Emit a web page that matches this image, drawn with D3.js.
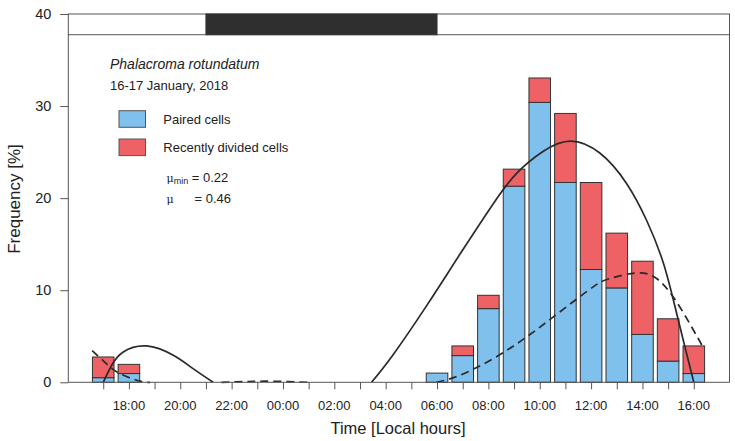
<!DOCTYPE html>
<html>
<head>
<meta charset="utf-8">
<script src="https://cdn.jsdelivr.net/npm/d3@7"></script>
<style>
  html, body { margin: 0; padding: 0; background: #fff; }
  svg { display: block; font-family: "Liberation Sans", Arial, Helvetica, sans-serif; }
</style>
</head>
<body>
<svg id="chart" width="735" height="441"></svg>
<script>
// ---------- data (hours counted from 00:00 on 16 January) ----------
const hours = [17,18,19,20,21,22,23,24,25,26,27,28,29,30,31,32,33,34,35,36,37,38,39,40];
const paired  = [0.5,0.95,0,0,0,0,0,0,0,0,0,0,0,1.0,2.9,8.0,21.3,30.4,21.7,12.25,10.25,5.2,2.3,0.95];
const divided = [2.25,1.0,0,0,0,0,0,0,0,0,0,0,0,0,1.05,1.45,1.85,2.65,7.5,9.45,5.95,7.95,4.6,3.0];
const labelHours = [18,20,22,24,26,28,30,32,34,36,38,40];
const yTicks = [0,10,20,30,40];
const night = [21, 30];          // dark period in top strip
const stripBottom = 37.75;       // strip lower edge in y units

// fitted curves: [hour, value]
const solidLeft  = [[17.0,0],[17.33,1.85],[17.78,3.3],[18.69,3.95],[19.73,2.93],[20.5,1.48],[21.28,0]];
const solidRight = [[27.45,0],[28.29,3.0],[29.59,8.3],[30.89,13.9],[32.19,19.4],[33.1,22.7],[34.14,25.1],[35.2,26.2],[36.34,24.9],[37.38,21.6],[38.16,17.6],[38.82,12.9],[39.33,7.5],[39.72,3.1],[40.0,0]];
const dashLeft   = [[16.57,3.45],[17.13,2.0],[17.65,0.94],[18.43,0.12],[18.82,0]];
const dashMid    = [[21.6,0],[22.5,0.07],[23.3,0.12],[24.2,0.07],[25.0,0]];
const dashRight  = [[29.98,0],[30.89,0.76],[32.19,2.58],[33.49,4.93],[34.78,7.64],[36.08,10.36],[36.73,11.27],[37.77,11.88],[38.55,11.27],[39.2,9.27],[39.84,6.38],[40.39,3.66]];

// ---------- layout ----------
const svg = d3.select("#chart");
const L = 68.3, R = 729.5, T = 14, B = 382.3;
const x = d3.scaleLinear().domain([15.64, 41.39]).range([L, R]);
const y = d3.scaleLinear().domain([0, 40]).range([B, T]);
const barW = x(17.84) - x(17);
const blue = "#80C0EC", red = "#EE6266", ink = "#333333";

// top strip
svg.append("rect").attr("x", L).attr("y", y(40)).attr("width", R - L).attr("height", y(stripBottom) - y(40))
  .attr("fill", "#fff").attr("stroke", "#555").attr("stroke-width", 1);
svg.append("rect").attr("x", x(night[0])).attr("y", y(40)).attr("width", x(night[1]) - x(night[0]))
  .attr("height", y(stripBottom) - y(40)).attr("fill", "#2f2f2f").attr("stroke", "#333").attr("stroke-width", 1);

// stacked bars
const rows = hours.map((h, i) => ({ h, paired: paired[i], divided: divided[i] }));
const stack = d3.stack().keys(["paired", "divided"])(rows);
const colors = { paired: blue, divided: red };
stack.forEach(layer => {
  svg.append("g").selectAll("rect")
    .data(layer.filter(d => d[1] - d[0] > 0))
    .join("rect")
    .attr("x", d => x(d.data.h) - barW / 2)
    .attr("y", d => y(d[1]))
    .attr("width", barW)
    .attr("height", d => y(d[0]) - y(d[1]))
    .attr("fill", colors[layer.key])
    .attr("stroke", ink)
    .attr("stroke-width", 1);
});

// curves
const line = d3.line().x(d => x(d[0])).y(d => y(d[1])).curve(d3.curveNatural);
[solidLeft, solidRight].forEach(s => svg.append("path").attr("d", line(s))
  .attr("fill", "none").attr("stroke", "#2a2a2a").attr("stroke-width", 1.7));
[dashLeft, dashMid, dashRight].forEach(s => svg.append("path").attr("d", line(s))
  .attr("fill", "none").attr("stroke", "#2a2a2a").attr("stroke-width", 1.7).attr("stroke-dasharray", "8,5"));

// frame (left, right, bottom)
svg.append("path")
  .attr("d", `M${L},${y(stripBottom)}V${B}H${R}V${y(stripBottom)}`)
  .attr("fill", "none").attr("stroke", "#555").attr("stroke-width", 1);

// y axis
const yAx = svg.append("g").attr("transform", `translate(${L},0)`)
  .call(d3.axisLeft(y).tickValues(yTicks).tickSize(8).tickPadding(9));
yAx.select(".domain").remove();
yAx.selectAll("line").attr("stroke", "#555");
yAx.selectAll("text").attr("font-size", 14.5).attr("fill", "#222").attr("font-family", "Liberation Sans, Arial, sans-serif");

// x axis
const xAx = svg.append("g").attr("transform", `translate(0,${B})`)
  .call(d3.axisBottom(x).tickValues(hours).tickSize(7).tickFormat(() => ""));
xAx.select(".domain").remove();
xAx.selectAll("line").attr("stroke", "#555");
const fmt = h => String(h % 24).padStart(2, "0") + ":00";
svg.append("g").selectAll("text").data(labelHours).join("text")
  .attr("x", d => x(d)).attr("y", 410)
  .attr("text-anchor", "middle").attr("font-size", 13).attr("fill", "#222")
  .text(fmt);

// axis titles
svg.append("text").attr("x", 398).attr("y", 434).attr("text-anchor", "middle")
  .attr("font-size", 16.5).attr("fill", "#222").text("Time [Local hours]");
svg.append("text").attr("transform", "translate(20,199) rotate(-90)").attr("text-anchor", "middle")
  .attr("font-size", 17).attr("fill", "#222").text("Frequency [%]");

// annotation & legend
svg.append("text").attr("x", 110).attr("y", 68.5).attr("font-size", 14).attr("font-style", "italic")
  .attr("fill", "#222").text("Phalacroma rotundatum");
svg.append("text").attr("x", 110).attr("y", 89.5).attr("font-size", 13).attr("fill", "#222")
  .text("16-17 January, 2018");
const legend = [
  { label: "Paired cells", color: blue, y: 110.7 },
  { label: "Recently divided cells", color: red, y: 139 }
];
legend.forEach(d => {
  svg.append("rect").attr("x", 119).attr("y", d.y).attr("width", 26.5).attr("height", 16.6)
    .attr("fill", d.color).attr("stroke", "#555").attr("stroke-width", 1);
  svg.append("text").attr("x", 163.3).attr("y", d.y + 13.3).attr("font-size", 13).attr("fill", "#222").text(d.label);
});
const mu1 = svg.append("text").attr("x", 166.5).attr("y", 181.5).attr("font-size", 13).attr("fill", "#222");
mu1.append("tspan").attr("font-family", "DejaVu Serif, serif").attr("font-size", 11).text("μ");
mu1.append("tspan").attr("font-size", 9).attr("dy", 2).text("min");
mu1.append("tspan").attr("dy", -2).text(" = 0.22");
const mu2 = svg.append("text").attr("x", 166.5).attr("y", 203).attr("font-size", 13).attr("fill", "#222");
mu2.append("tspan").attr("font-family", "DejaVu Serif, serif").attr("font-size", 11).text("μ");
svg.append("text").attr("x", 194.5).attr("y", 203).attr("font-size", 13).attr("fill", "#222").text("= 0.46");
</script>
</body>
</html>
